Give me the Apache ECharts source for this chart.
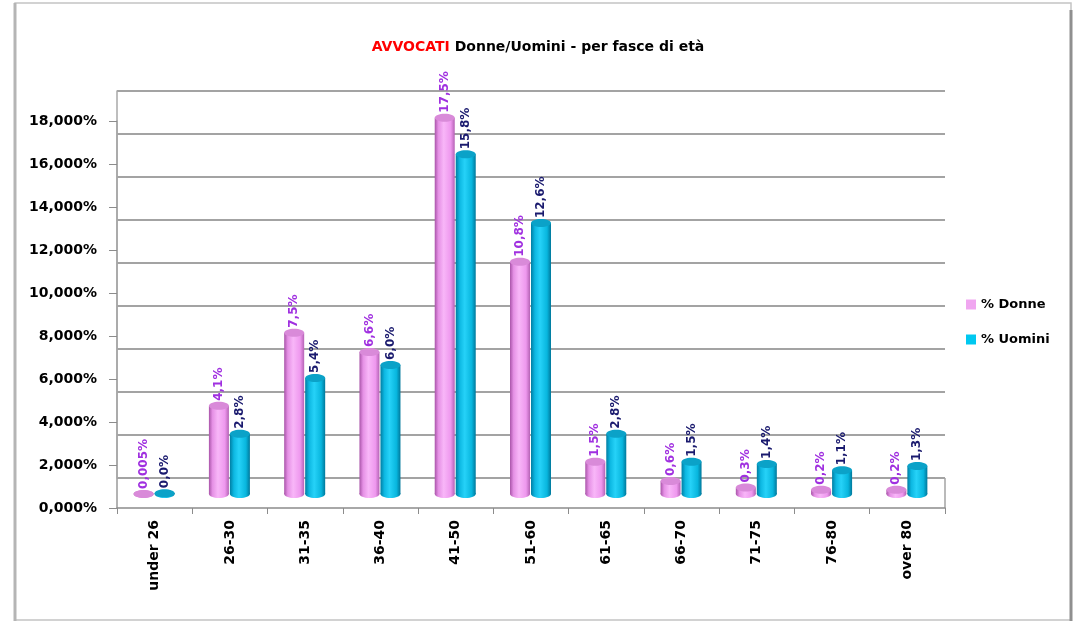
<!DOCTYPE html>
<html lang="it">
<head>
    <meta charset="UTF-8" />
    <title>AVVOCATI Donne/Uomini - per fasce di età</title>
    <style>
      html, body { margin: 0; padding: 0; background: #fff; }
    </style>
</head>
<body>
<div id="main" style="width: 1081px; height: 623px"></div>
<script src="https://cdn.jsdelivr.net/npm/echarts@6.0.0/dist/echarts.min.js"></script>
<script>
  // fasce di età
  var categories = ['under 26', '26-30', '31-35', '36-40', '41-50', '51-60', '61-65', '66-70', '71-75', '76-80', 'over 80'];
  // valori in %
  var donne = [0.005, 4.1, 7.5, 6.6, 17.5, 10.8, 1.5, 0.6, 0.3, 0.2, 0.2];
  var uomini = [0.04, 2.8, 5.4, 6.0, 15.8, 12.6, 2.8, 1.5, 1.4, 1.1, 1.3];
  // etichette come nel foglio excel
  var donneLabels = ['0,005%', '4,1%', '7,5%', '6,6%', '17,5%', '10,8%', '1,5%', '0,6%', '0,3%', '0,2%', '0,2%'];
  var uominiLabels = ['0,0%', '2,8%', '5,4%', '6,0%', '15,8%', '12,6%', '2,8%', '1,5%', '1,4%', '1,1%', '1,3%'];
  var yTicks = [0, 2, 4, 6, 8, 10, 12, 14, 16, 18];

  var FONT = '"DejaVu Sans", sans-serif';
  var myChart = echarts.init(document.getElementById('main'));

  // cilindro 3d (tipo excel)
  function cylinder(opt) {
    return function (params, api) {
      var idx = api.value(0);
      var base = api.coord([idx, 0]);
      var top = api.coord([idx, api.value(1)]);
      var cx = base[0] + opt.shift;
      var depth = 14; // i cilindri stanno a metà profondità del pavimento
      var by = base[1] - depth;
      var ty = top[1] - depth;
      var rx = 10, ry = 4;
      var body = new echarts.graphic.LinearGradient(0, 0, 1, 0, opt.stops);
      return {
        type: 'group',
        children: [
          { type: 'ellipse', shape: { cx: cx, cy: by, rx: rx, ry: ry }, style: { fill: body } },
          { type: 'rect', shape: { x: cx - rx, y: ty, width: rx * 2, height: Math.max(by - ty, 0) }, style: { fill: body } },
          { type: 'ellipse', shape: { cx: cx, cy: ty, rx: rx, ry: ry }, style: { fill: opt.cap } },
          {
            type: 'text',
            x: cx,
            y: ty - ry - 1,
            rotation: Math.PI / 2,
            style: {
              text: opt.labels[params.dataIndex],
              textAlign: 'left',
              textVerticalAlign: 'middle',
              fill: opt.labelColor,
              font: 'bold 12px ' + FONT
            }
          }
        ]
      };
    };
  }

  function pct(v) {
    return v.toFixed(3).replace('.', ',') + '%';
  }

  var option = {
    animation: false,
    backgroundColor: '#fff',
    title: {
      text: '{a|AVVOCATI} {b|Donne/Uomini - per fasce di età}',
      left: 533,
      textAlign: 'center',
      top: 33,
      textStyle: {
        rich: {
          a: { color: '#ff0000', fontWeight: 'bold', fontSize: 14, fontFamily: FONT },
          b: { color: '#000', fontWeight: 'bold', fontSize: 14, fontFamily: FONT }
        }
      }
    },
    legend: {
      orient: 'vertical',
      left: 961,
      top: 293,
      itemWidth: 10,
      itemHeight: 10,
      itemGap: 22,
      icon: 'rect',
      textStyle: { fontFamily: FONT, fontWeight: 'bold', fontSize: 13, color: '#000' },
      data: ['% Donne', '% Uomini']
    },
    grid: [
      // asse frontale
      { left: 117, right: 136, top: 121, bottom: 115 },
      // parete di fondo
      { left: 117, right: 136, top: 91, bottom: 145 }
    ],
    xAxis: [
      {
        type: 'category',
        gridIndex: 0,
        data: categories,
        axisLine: { lineStyle: { color: '#8c8c8c', width: 1.5 } },
        axisTick: { show: true, length: 6, lineStyle: { color: '#8c8c8c' } },
        axisLabel: {
          rotate: 90,
          margin: 12,
          color: '#000',
          fontFamily: FONT,
          fontWeight: 'bold',
          fontSize: 14
        }
      },
      {
        type: 'category',
        gridIndex: 1,
        data: categories,
        show: false
      }
    ],
    yAxis: [
      {
        type: 'value',
        gridIndex: 0,
        min: 0,
        max: 18,
        interval: 2,
        axisLine: { show: true, lineStyle: { color: '#9a9a9a', width: 1.5 } },
        axisTick: { show: true, length: 8, lineStyle: { color: '#8c8c8c' } },
        splitLine: { show: false },
        axisLabel: {
          margin: 20,
          color: '#000',
          fontFamily: FONT,
          fontWeight: 'bold',
          fontSize: 14,
          formatter: function (v) { return yTicks.indexOf(v) >= 0 ? pct(v) : ''; }
        }
      },
      {
        type: 'value',
        gridIndex: 1,
        min: 0,
        max: 18,
        interval: 2,
        axisLine: { show: true, lineStyle: { color: '#a8a8a8', width: 1.5 } },
        axisTick: { show: false },
        axisLabel: { show: false },
        splitLine: { show: true, lineStyle: { color: '#a3a3a3', width: 2 } }
      }
    ],
    graphic: [
      // cornice del grafico
      { type: 'rect', shape: { x: 15, y: 3, width: 1056, height: 617 }, style: { fill: 'none', stroke: '#c4c4c4', lineWidth: 1.5 }, silent: true },
      { type: 'line', shape: { x1: 15, y1: 3, x2: 15, y2: 621 }, style: { stroke: '#b5b5b5', lineWidth: 3 }, silent: true },
      { type: 'line', shape: { x1: 1071, y1: 10, x2: 1071, y2: 621 }, style: { stroke: '#8f8f8f', lineWidth: 3 }, silent: true },
      // bordo destro del pavimento
      { type: 'line', shape: { x1: 945, y1: 478, x2: 945, y2: 508 }, style: { stroke: '#a3a3a3', lineWidth: 1.5 }, silent: true }
    ],
    series: [
      {
        name: '% Donne',
        type: 'custom',
        xAxisIndex: 0,
        yAxisIndex: 0,
        itemStyle: { color: '#f0a6f0' },
        renderItem: cylinder({
          shift: -11,
          stops: [
            { offset: 0, color: '#a954a9' },
            { offset: 0.18, color: '#e590e5' },
            { offset: 0.45, color: '#f8b6f8' },
            { offset: 0.8, color: '#ee98ee' },
            { offset: 1, color: '#b562b5' }
          ],
          cap: '#d98ad9',
          labels: donneLabels,
          labelColor: '#a030e0'
        }),
        data: donne.map(function (v, i) { return [i, v]; })
      },
      {
        name: '% Uomini',
        type: 'custom',
        xAxisIndex: 0,
        yAxisIndex: 0,
        itemStyle: { color: '#00c8f0' },
        renderItem: cylinder({
          shift: 10,
          stops: [
            { offset: 0, color: '#007ea3' },
            { offset: 0.2, color: '#0db8e2' },
            { offset: 0.45, color: '#26d2f8' },
            { offset: 0.8, color: '#08b6de' },
            { offset: 1, color: '#00789b' }
          ],
          cap: '#0ba2c8',
          labels: uominiLabels,
          labelColor: '#1a1a6e'
        }),
        data: uomini.map(function (v, i) { return [i, v]; })
      }
    ]
  };

  myChart.setOption(option);
</script>
</body>
</html>
